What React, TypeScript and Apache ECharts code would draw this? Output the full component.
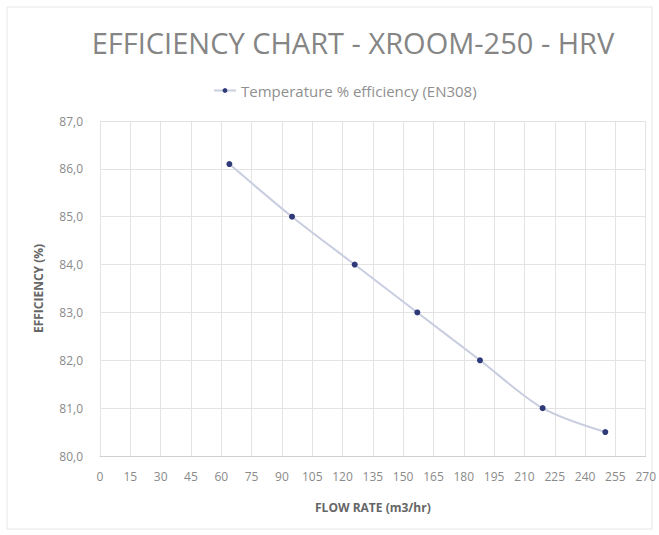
import React, { useEffect, useRef } from "react";
import * as echarts from "echarts";

const flowRate = [64, 95, 126, 157, 188, 219, 250];
const efficiency = [86.1, 85.0, 84.0, 83.0, 82.0, 81.0, 80.5];
const seriesName = "Temperature % efficiency (EN308)";
const titleText = "EFFICIENCY CHART - XROOM-250 - HRV";
const xAxisName = "FLOW RATE (m3/hr)";
const yAxisName = "EFFICIENCY (%)";

export default function App() {
  const ref = useRef<HTMLDivElement>(null);
  useEffect(() => {
    document.body.style.margin = "0";
    const chart = echarts.init(ref.current!, null, { renderer: "svg" });
    const data = flowRate.map((x, i) => [x, efficiency[i]]);
    chart.setOption({
      animation: false,
      backgroundColor: "#ffffff",
      textStyle: { fontFamily: "Open Sans" },
      title: {
        text: titleText,
        left: 348,
        textAlign: "center",
        top: 23,
        textStyle: {
          fontFamily: "Open Sans",
          fontSize: 29,
          fontWeight: "normal",
          color: "#858585",
        },
      },
      legend: {
        top: 78,
        left: 208,
        data: [seriesName],
        itemWidth: 22,
        itemHeight: 6,
        itemGap: 4,
        textStyle: { fontSize: 15, color: "#8f8f8f" },
      },
      graphic: [
        {
          type: "rect",
          shape: { x: 7, y: 7, width: 645, height: 522 },
          style: { fill: "none", stroke: "#e6e6e6", lineWidth: 1 },
          silent: true,
        },
      ],
      grid: { left: 100, right: 12, top: 121, bottom: 79, containLabel: false },
      xAxis: {
        type: "value",
        min: 0,
        max: 270,
        interval: 15,
        name: xAxisName,
        nameLocation: "middle",
        nameGap: 45,
        nameTextStyle: { fontSize: 12, fontWeight: "bold", color: "#666666" },
        axisLine: { show: true, lineStyle: { color: "#d0d0d0" } },
        axisTick: { show: false },
        axisLabel: { fontSize: 12, color: "#8a8a8a", margin: 14 },
        splitLine: { show: true, lineStyle: { color: "#e3e3e3" } },
      },
      yAxis: {
        type: "value",
        min: 80,
        max: 87,
        interval: 1,
        name: yAxisName,
        nameLocation: "middle",
        nameGap: 56,
        nameTextStyle: { fontSize: 12, fontWeight: "bold", color: "#666666" },
        axisLine: { show: false },
        axisTick: { show: false },
        axisLabel: {
          fontSize: 12,
          color: "#8a8a8a",
          margin: 17,
          formatter: (v: number) => v.toFixed(1).replace(".", ","),
        },
        splitLine: { show: true, lineStyle: { color: "#e3e3e3" } },
      },
      series: [
        {
          name: seriesName,
          type: "line",
          data,
          smooth: 0.3,
          symbol: "circle",
          symbolSize: 6,
          lineStyle: { color: "#c8cde0", width: 2 },
          itemStyle: { color: "#2f3a78" },
        },
      ],
    });
    return () => chart.dispose();
  }, []);
  return <div ref={ref} style={{ width: 659, height: 535 }} />;
}
